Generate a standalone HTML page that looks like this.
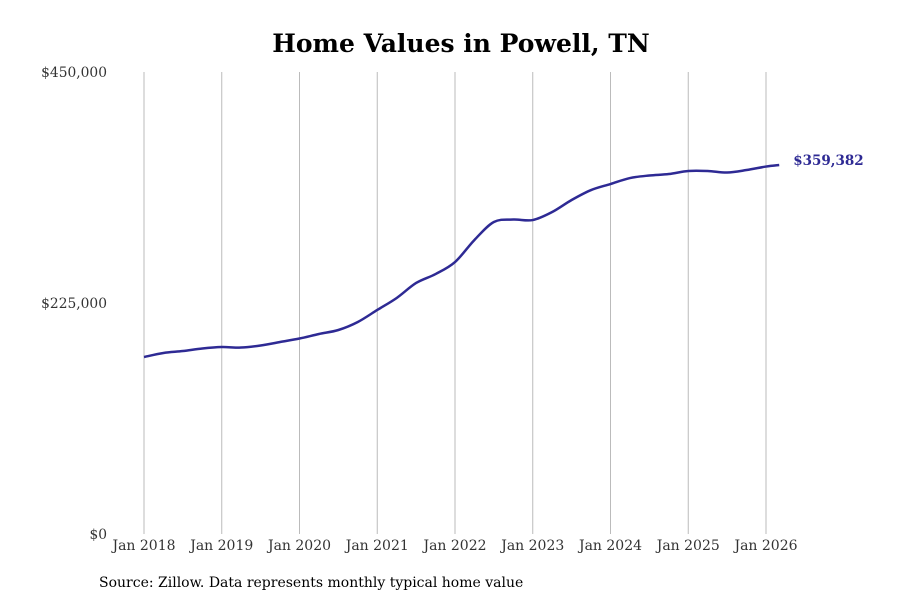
<!DOCTYPE html>
<html><head><meta charset="utf-8"><style>
body{margin:0;background:#fff;}
svg{display:block;font-family:"DejaVu Serif","Liberation Serif",serif;}
</style></head><body>
<svg id="chart" width="900" height="600">
<text x="461" y="52" text-anchor="middle" font-size="25" font-weight="bold" fill="#000">Home Values in Powell, TN</text>
<g id="grid"></g><g id="yaxis"></g><g id="xaxis"></g>
<path id="line" fill="none" stroke="#2e2a94" stroke-width="2.5"></path>
<text id="endlabel" font-size="13.5" font-weight="bold" fill="#2e2a94"></text>
<text x="99" y="587" font-size="14" fill="#000">Source: Zillow. Data represents monthly typical home value</text>
</svg>
<script>
const dates=[2018.0,2018.25,2018.5,2018.75,2019.0,2019.25,2019.5,2019.75,2020.0,2020.25,2020.5,2020.75,2021.0,2021.25,2021.5,2021.75,2022.0,2022.25,2022.5,2022.75,2023.0,2023.25,2023.5,2023.75,2024.0,2024.25,2024.5,2024.75,2025.0,2025.25,2025.5,2025.75,2026.0,2026.17];
const values=[172400,176300,178200,180700,182100,181600,183600,187000,190400,194800,198700,206500,218200,229900,244500,253200,264900,286400,303900,306300,305800,313600,325300,335000,340900,346700,349200,350600,353600,353600,352100,354500,357900,359382];
const yTicks=[0,225000,450000];
const yTickLabels=["$0","$225,000","$450,000"];
const xTicks=[2018,2019,2020,2021,2022,2023,2024,2025,2026];
const xTickLabels=["Jan 2018","Jan 2019","Jan 2020","Jan 2021","Jan 2022","Jan 2023","Jan 2024","Jan 2025","Jan 2026"];
const endLabel="$359,382";
const NS="http://www.w3.org/2000/svg";
const xs=d=>144+(d-2018)*77.75;
const ys=v=>534-v/450000*462;
function mk(tag,attrs,parent,text){const e=document.createElementNS(NS,tag);for(const k in attrs)e.setAttribute(k,attrs[k]);if(text!=null)e.textContent=text;document.getElementById(parent).appendChild(e);return e;}
xTicks.forEach((t,i)=>{
  const g=mk('line',{x1:xs(t),x2:xs(t),y1:72,y2:534,stroke:'#bbb','stroke-width':1},'grid');
  
  
  const l=mk('text',{x:xs(t),y:550,'text-anchor':'middle','font-size':14,fill:'#333'},'xaxis',xTickLabels[i]);
  
  
});
yTicks.forEach((t,i)=>{
  const l=mk('text',{x:107,y:ys(t)+5,'text-anchor':'end','font-size':13.8,fill:'#333'},'yaxis',yTickLabels[i]);
  
  
});
const P=dates.map((d,i)=>[xs(d),ys(values[i])]);
let p='M'+P[0][0]+','+P[0][1];
for(let i=0;i<P.length-1;i++){
  const p0=P[i-1]||P[i],p1=P[i],p2=P[i+1],p3=P[i+2]||p2;
  const c1=[p1[0]+(p2[0]-p0[0])/6,p1[1]+(p2[1]-p0[1])/6];
  const c2=[p2[0]-(p3[0]-p1[0])/6,p2[1]-(p3[1]-p1[1])/6];
  p+=' C'+c1+' '+c2+' '+p2;
}
document.getElementById('line').setAttribute('d',p);
const last=P[P.length-1];
const el=document.getElementById('endlabel');
el.setAttribute('x',last[0]+14);el.setAttribute('y',last[1]);
el.textContent=endLabel;
</script>
</body></html>
